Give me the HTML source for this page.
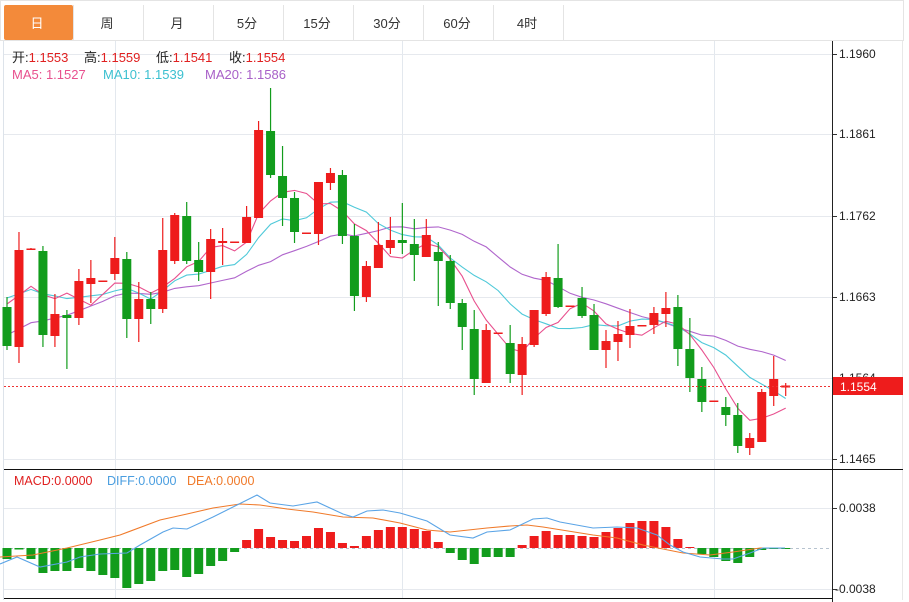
<!DOCTYPE html>
<html><head><meta charset="utf-8"><style>
body{margin:0;width:909px;height:602px;overflow:hidden;background:#fff;font-family:"Liberation Sans","Noto Sans CJK SC",sans-serif;}
svg{position:absolute;left:0;top:0}
</style></head><body>
<svg id="s" width="909" height="602" xmlns="http://www.w3.org/2000/svg" font-family="Liberation Sans, Noto Sans CJK SC, sans-serif"></svg>
<script>
const s=document.getElementById('s');let h='';
h+='<rect x="0.5" y="0.5" width="903" height="40" fill="#fff" stroke="#e4e4e4"/>';
h+='<rect x="4" y="5" width="69" height="35" rx="2" fill="#f38a3a"/>';
const tabs=['日','周','月','5分','15分','30分','60分','4时'];
tabs.forEach((t,i)=>{const cx=37+i*70;
 if(i>0)h+=`<line x1="${3+i*70+0.5}" y1="5" x2="${3+i*70+0.5}" y2="40" stroke="#e4e4e4"/>`;
 h+=`<text x="${cx}" y="28" font-size="13" text-anchor="middle" fill="${i==0?'#fff':'#333'}">${t}</text>`;});
h+='<line x1="563.5" y1="5" x2="563.5" y2="40" stroke="#e4e4e4"/>';
h+='<line x1="3.5" y1="41" x2="3.5" y2="600" stroke="#dde3ea"/>';
h+='<line x1="902.5" y1="41" x2="902.5" y2="600" stroke="#e8e8e8"/>';
[115,402,714].forEach(x=>h+=`<line x1="${x+.5}" y1="41" x2="${x+.5}" y2="599" stroke="#e3e8ee"/>`);
const ticks=[[54,'1.1960'],[134,'1.1861'],[216,'1.1762'],[297,'1.1663'],[378,'1.1564'],[459,'1.1465']];
ticks.forEach(([y,t])=>{h+=`<line x1="4" y1="${y+.5}" x2="832" y2="${y+.5}" stroke="#e6e9ee"/><line x1="832" y1="${y+.5}" x2="837" y2="${y+.5}" stroke="#333"/><text x="839" y="${y+4}" font-size="12" fill="#222">${t}</text>`;});
[[508,'0.0038'],[589,'-0.0038']].forEach(([y,t])=>{h+=`<line x1="4" y1="${y+.5}" x2="832" y2="${y+.5}" stroke="#e6e9ee"/><line x1="832" y1="${y+.5}" x2="837" y2="${y+.5}" stroke="#333"/><text x="${t[0]=='-'?835:839}" y="${y+4}" font-size="12" fill="#222">${t}</text>`;});
h+='<line x1="832.5" y1="41" x2="832.5" y2="602" stroke="#222"/>';
h+='<line x1="4" y1="469.5" x2="903" y2="469.5" stroke="#111"/>';
h+='<line x1="4" y1="598.5" x2="832" y2="598.5" stroke="#111"/>';
const C=[[307,346,297,350,0],[250,347,232,363,1],[248.5,250,248,250,1],[251,335,246,347,0],[314,336,294,347,1],[315,318,310,369,0],[281,318,269,325,1],[278,284,260,303,1],[280.5,282,281,282,1],[258,274,237,280,1],[259,319,252,338,0],[299,319,282,342,1],[299,309,292,324,0],[250,309,218,313,1],[215,261,213,264,1],[216,261,202,264,0],[260,272,242,281,0],[239,272,229,299,1],[241,243,228,265,1],[241.5,243,242,243,1],[217,243,206,243,1],[130,218,121,218,1],[131,175,88,178,0],[176,198,146,226,0],[198,232,192,243,0],[232.5,234,233,234,1],[182,234,182,245,1],[173,183,168,190,1],[175,236,170,244,0],[236,296,224,311,0],[266,297,261,302,1],[245,268,222,268,1],[240,248,217,254,1],[240,243,203,254,0],[244,255,219,281,0],[235,257,219,257,1],[252,261,242,306,0],[261,303,255,309,0],[303,327,299,350,0],[329,379,310,395,0],[330,383,324,383,1],[332.5,334,333,334,1],[343,374,325,383,0],[344,375,337,395,1],[310,345,310,347,1],[277,314,272,316,1],[278,307,244,308,0],[305.5,307,306,307,1],[298,316,287,318,0],[315,350,304,350,0],[341,350,330,368,1],[334,342,321,361,1],[326,335,309,348,1],[325,326.5,325,326,1],[313,325,307,334,1],[308,314,292,327,1],[307,349,295,366,0],[349,378,318,392,0],[379,402,367,412,0],[400.5,402,401,402,1],[407,415,397,426,0],[415,446,403,453,0],[438,448,433,455,1],[392,442,389,442,1],[379,396,356,406,1],[385.5,387.5,383,396,1]];
const X=i=>7+i*11.98;
const R='#ee1c1c',G='#129c1c';
const closes=C.map(c=>c[4]?c[0]:c[1]);
const hist=[];for(let k=0;k<10;k++)hist.push(372);for(let k=0;k<5;k++)hist.push(292);for(let k=0;k<4;k++)hist.push(293.5);
const all=hist.concat(closes);
function ma(n,col){let p=[];for(let i=0;i<C.length;i++){const j=i+19;let sm=0;for(let k=0;k<n;k++)sm+=all[j-k];p.push(X(i).toFixed(1)+','+(sm/n).toFixed(1));}
 return `<polyline points="${p.join(' ')}" fill="none" stroke="${col}" stroke-width="1.1"/>`;}
h+=ma(20,'#b066cc')+ma(10,'#4fc9d9')+ma(5,'#e8508e');
C.forEach((c,i)=>{const x=X(i),col=c[4]?R:G;
 h+=`<line x1="${x}" y1="${c[2]}" x2="${x}" y2="${c[3]}" stroke="${col}" stroke-width="1.2"/>`;
 h+=`<rect x="${x-4.5}" y="${c[0]}" width="9" height="${Math.max(1.5,c[1]-c[0])}" fill="${col}"/>`;});
h+='<line x1="4" y1="386.5" x2="832" y2="386.5" stroke="#e33" stroke-dasharray="2,2"/>';
h+='<rect x="833" y="377" width="70" height="18" fill="#ee1c1c"/><text x="840" y="391" font-size="12" fill="#fff">1.1554</text>';
h+='<text y="62" font-size="13"><tspan x="12" fill="#222">开:</tspan><tspan fill="#e02020">1.1553</tspan><tspan x="84" fill="#222">高:</tspan><tspan fill="#e02020">1.1559</tspan><tspan x="156" fill="#222">低:</tspan><tspan fill="#e02020">1.1541</tspan><tspan x="229" fill="#222">收:</tspan><tspan fill="#e02020">1.1554</tspan></text>';
h+='<text y="79" font-size="13"><tspan x="12" fill="#e8508e">MA5: 1.1527</tspan><tspan x="103" fill="#3cc0d0">MA10: 1.1539</tspan><tspan x="205" fill="#a860c8">MA20: 1.1586</tspan></text>';
h+='<text y="485" font-size="12.5"><tspan x="14" fill="#e02020">MACD:0.0000</tspan><tspan x="107" fill="#4a9ee0">DIFF:0.0000</tspan><tspan x="187" fill="#f07a2a">DEA:0.0000</tspan></text>';
h+='<line x1="4" y1="548.5" x2="832" y2="548.5" stroke="#9ab" stroke-dasharray="3,3" opacity=".7"/>';
const M=[559,549.5,559,573,571,571,568,571,575,578,588,584,581,571,570,577,574,566,561,552,540,529,537,540,541,536,528,532,543,546,536,530,527,527,529,531,542,553,560,564,557,557,557,545,536,531,535,535,536,537,532,528,523,521,521,527,539,547,554,557,561,563,557,550,549,548.5];
M.forEach((v,i)=>{const x=X(i);const up=v<548;const y0=up?v:548,hh=Math.max(1,Math.abs(v-548));
 h+=`<rect x="${x-4.5}" y="${y0}" width="9" height="${hh}" fill="${up?R:G}"/>`;});
const DIFF=[[0,564],[17,557],[40,567],[67,562],[80,557],[100,554],[127,553],[140,545],[163,532],[173,528],[187,529],[213,517],[233,507],[257,495],[270,503],[293,506],[317,502],[343,514],[353,517],[367,511],[383,510],[400,513],[427,521],[450,535],[473,538],[487,532],[510,530],[533,519],[547,518],[560,522],[593,528],[617,527],[637,528],[657,535],[670,545],[683,552],[700,557],[723,559],[733,559],[750,553],[763,548],[785,548]];
const DEA=[[0,557],[33,555],[67,548],[100,540],[120,535],[160,520],[187,514],[213,508],[240,504],[260,505],[287,509],[313,512],[343,517],[373,518],[400,523],[427,530],[450,532],[487,528],[510,526],[527,525],[543,527],[593,535],[617,538],[643,545],[663,549],[683,553],[710,555],[733,552],[760,548],[785,548]];
const pl=(a,c)=>`<polyline points="${a.map(p=>p.join(',')).join(' ')}" fill="none" stroke="${c}" stroke-width="1.1"/>`;
h+=pl(DEA,'#f07a2a')+pl(DIFF,'#5aa4e6');
s.innerHTML=h;
</script>
</body></html>
